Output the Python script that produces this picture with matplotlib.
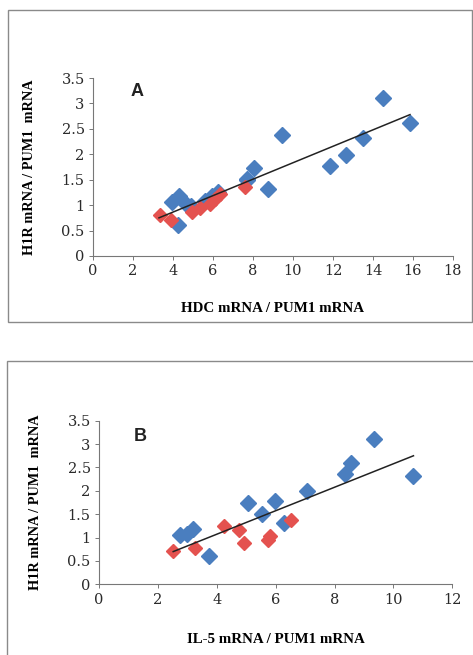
import matplotlib
matplotlib.use('Agg')
import matplotlib.pyplot as plt
from matplotlib.patches import Rectangle

# panel A: HDC vs H1R
a_blue_x = [14.5, 15.85, 9.45, 13.5, 12.65, 11.85, 8.05, 7.7, 8.77, 4.3, 3.95, 4.6, 4.9, 4.27, 5.6, 5.93, 6.27, 7.68]
a_blue_y = [3.11, 2.61, 2.38, 2.33, 1.98, 1.77, 1.74, 1.49, 1.31, 1.17, 1.06, 1.05, 0.98, 0.60, 1.08, 1.17, 1.25, 1.52]
a_red_x = [3.35, 3.88, 4.93, 5.35, 5.85, 6.1, 6.35, 7.6]
a_red_y = [0.80, 0.71, 0.87, 0.94, 1.03, 1.13, 1.22, 1.36]
a_fit_x = [3.3, 15.85]
a_fit_y = [0.75, 2.78]

# panel B: IL-5 vs H1R
b_blue_x = [9.34, 8.56, 8.35, 10.65, 7.05, 5.99, 5.07, 5.55, 6.29, 3.75, 3.2, 2.75, 2.98]
b_blue_y = [3.11, 2.60, 2.37, 2.32, 2.00, 1.78, 1.75, 1.50, 1.32, 0.61, 1.18, 1.05, 1.08]
b_red_x = [2.5, 3.26, 4.26, 4.77, 4.94, 5.81, 5.75, 6.51]
b_red_y = [0.71, 0.77, 1.25, 1.16, 0.88, 1.03, 0.95, 1.38]
b_fit_x = [2.52, 10.68]
b_fit_y = [0.70, 2.75]

yticks = [0, 0.5, 1, 1.5, 2, 2.5, 3, 3.5]
ylabels = ['0', '0.5', '1', '1.5', '2', '2.5', '3', '3.5']

blue = '#4A7EBF'
red = '#E4524F'
tickfont = ['DejaVu Serif']
labfont = ['Liberation Serif', 'DejaVu Serif']

fig = plt.figure(figsize=(4.73, 6.55), dpi=100)

# grey frames around each panel
fig.add_artist(Rectangle((8 / 473, 1 - 322 / 655), 464 / 473, 312 / 655,
                         transform=fig.transFigure, fill=False, ec='#8a8a8a', lw=1.0))
fig.add_artist(Rectangle((7 / 473, -0.01), 470 / 473, 1 - 361 / 655 + 0.01,
                         transform=fig.transFigure, fill=False, ec='#8a8a8a', lw=1.0))


def panel(ax, bx, by, rx, ry, fx, fy, xmax, xlabel, letter, lx, ly, xpad):
    ax.plot(bx, by, 'D', color=blue, ms=8.5, mec=blue, zorder=3)
    ax.plot(rx, ry, 'D', color=red, ms=7.5, mec=red, zorder=4)
    ax.plot(fx, fy, '-', color='#222222', lw=1.1, zorder=5)
    ax.set_xlim(0, xmax)
    ax.set_ylim(0, 3.5)
    ax.set_xticks(range(0, xmax + 1, 2))
    ax.set_yticks(yticks)
    ax.set_yticklabels(ylabels)
    for s in ['top', 'right']:
        ax.spines[s].set_visible(False)
    for s in ['left', 'bottom']:
        ax.spines[s].set_color('#777777')
        ax.spines[s].set_linewidth(0.8)
    ax.tick_params(direction='out', length=3, width=0.7, color='#777777',
                   labelsize=10.5, pad=3)
    for t in ax.get_xticklabels() + ax.get_yticklabels():
        t.set_family(tickfont)
        t.set_color('#2a2a2a')
    ax.set_xlabel(xlabel, family=labfont, fontweight='bold', fontsize=10.8, labelpad=xpad)
    ax.set_ylabel('H1R mRNA / PUM1  mRNA', family=labfont, fontweight='bold',
                  fontsize=10.3, labelpad=18)
    ax.text(lx, ly, letter, family='Liberation Sans', fontweight='bold',
            fontsize=13, ha='center', va='center', color='#222222')


ax1 = fig.add_axes([0.1966, 0.6092, 0.7611, 0.2717])
panel(ax1, a_blue_x, a_blue_y, a_red_x, a_red_y, a_fit_x, a_fit_y, 18,
      'HDC mRNA / PUM1 mRNA', 'A', 2.18, 3.23, 17)

ax2 = fig.add_axes([0.2093, 0.1079, 0.7470, 0.2498])
panel(ax2, b_blue_x, b_blue_y, b_red_x, b_red_y, b_fit_x, b_fit_y, 12,
      'IL-5 mRNA / PUM1 mRNA', 'B', 1.39, 3.16, 19)

fig.savefig('out.png', dpi=100)
